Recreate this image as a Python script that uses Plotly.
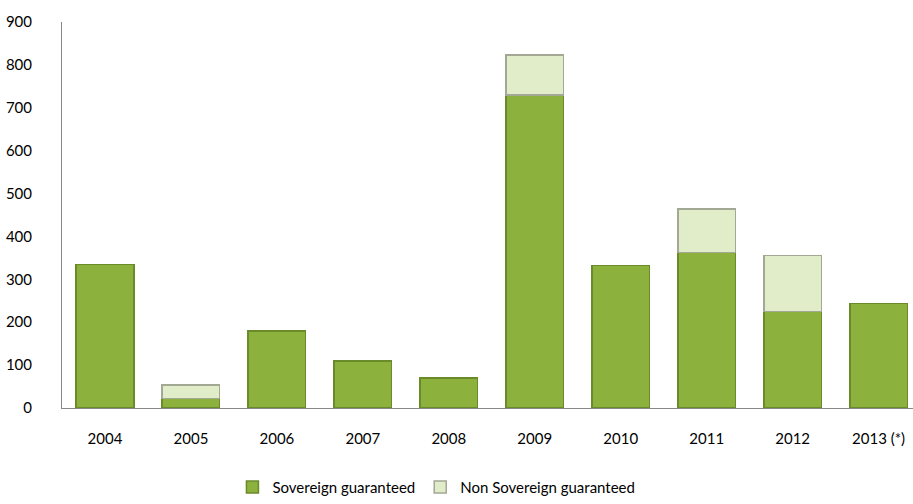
import plotly.graph_objects as go

years = ["2004", "2005", "2006", "2007", "2008", "2009", "2010", "2011", "2012", "2013 (*)"]
sovereign = [335, 22, 180, 110, 70, 730, 332, 362, 225, 244]
non_sovereign = [None, 32, None, None, None, 93, None, 102, 131, None]

font = dict(family="Lato, Open Sans, sans-serif", size=15, color="#000000")

fig = go.Figure()
fig.add_trace(go.Bar(
    x=years, y=sovereign, name="Sovereign guaranteed",
    marker=dict(color="#8CB13C", line=dict(color="#6B8A2A", width=1.5)),
    width=0.67,
))
fig.add_trace(go.Bar(
    x=years, y=non_sovereign, name="Non Sovereign guaranteed",
    marker=dict(color="#E1ECC8", line=dict(color="#A3A895", width=1.5)),
    width=0.67,
))

fig.update_layout(
    barmode="stack",
    width=913, height=504,
    margin=dict(l=62, r=0, t=22, b=94),
    paper_bgcolor="white", plot_bgcolor="white",
    font=font,
    showlegend=True,
    legend=dict(orientation="h", x=0.44, xanchor="center", y=-0.205, yanchor="middle",
                font=dict(size=15), itemwidth=30, traceorder="normal"),
    xaxis=dict(range=[-0.5, 9.4], showline=True, linecolor="#888888", linewidth=1,
               showgrid=False, ticks="", ticklabelstandoff=17, tickfont=font),
    yaxis=dict(range=[0, 900], dtick=100, showline=True, linecolor="#888888", linewidth=1,
               showgrid=False, zeroline=False, ticks="", ticklabelstandoff=26, tickfont=font),
)

fig.write_html("out.html")
